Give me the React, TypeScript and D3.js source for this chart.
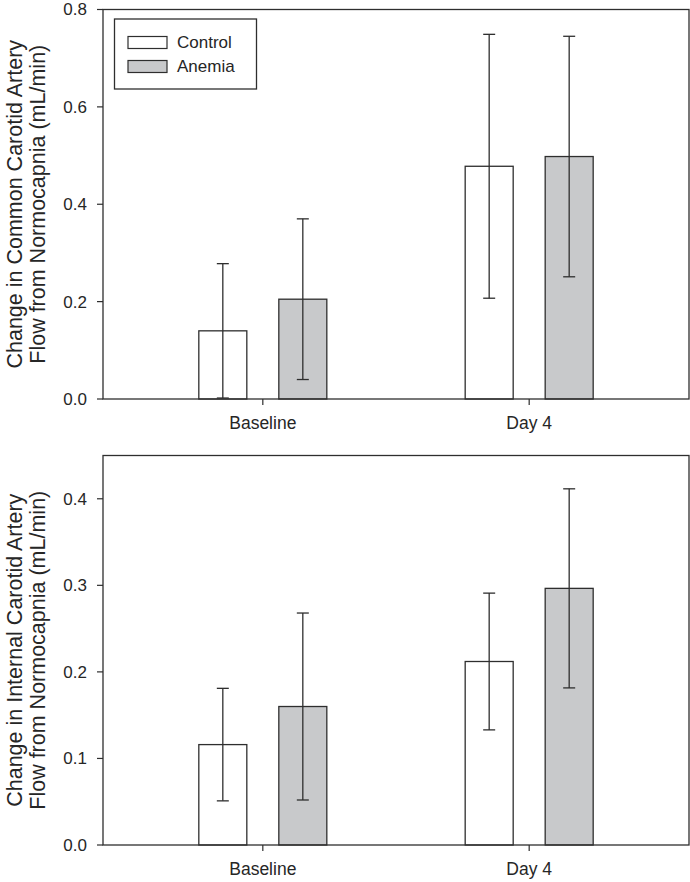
import React from "react";
import * as d3 from "d3";

const categories = ["Baseline", "Day 4"];
const series = ["Control", "Anemia"];
const seriesFill = ["#ffffff", "#c8c9cb"];

// Top panel: Common Carotid Artery
const cccControlMean = [0.14, 0.478];
const cccControlErr = [0.138, 0.271];
const cccAnemiaMean = [0.205, 0.498];
const cccAnemiaErr = [0.165, 0.247];
const cccTicks = [0.0, 0.2, 0.4, 0.6, 0.8];

// Bottom panel: Internal Carotid Artery
const icaControlMean = [0.116, 0.212];
const icaControlErr = [0.065, 0.079];
const icaAnemiaMean = [0.16, 0.2965];
const icaAnemiaErr = [0.108, 0.115];
const icaTicks = [0.0, 0.1, 0.2, 0.3, 0.4];

const FONT = "Liberation Sans, Arial, sans-serif";
const STROKE = "#2e2e2e";
const TEXT = "#262626";

type PanelProps = {
  top: number;
  bottom: number;
  yMax: number;
  ticks: number[];
  means: number[][];
  errs: number[][];
  title: string[];
  legend?: boolean;
};

const left = 103;
const right = 689;

function Panel({ top, bottom, yMax, ticks, means, errs, title, legend }: PanelProps) {
  const x = d3.scalePoint<string>().domain(categories).range([left, right]).padding(0.6);
  const xs = d3.scaleBand<string>().domain(series).range([-64, 64]).paddingInner(0.4);
  const y = d3.scaleLinear().domain([0, yMax]).range([bottom, top]);
  const capHalf = 6;
  const cy = (top + bottom) / 2;
  return (
    <g>
      {/* bars */}
      {series.map((s, si) =>
        categories.map((c, ci) => {
          const x0 = (x(c) as number) + (xs(s) as number);
          const v = means[si][ci];
          return (
            <rect
              key={s + c}
              x={x0}
              y={y(v)}
              width={xs.bandwidth()}
              height={y(0) - y(v)}
              fill={seriesFill[si]}
              stroke={STROKE}
              strokeWidth={1.3}
            />
          );
        })
      )}
      {/* error bars */}
      {series.map((s, si) =>
        categories.map((c, ci) => {
          const xc = (x(c) as number) + (xs(s) as number) + xs.bandwidth() / 2;
          const v = means[si][ci];
          const e = errs[si][ci];
          return (
            <g key={"e" + s + c} stroke={STROKE} strokeWidth={1.3}>
              <line x1={xc} x2={xc} y1={y(v + e)} y2={y(v - e)} />
              <line x1={xc - capHalf} x2={xc + capHalf} y1={y(v + e)} y2={y(v + e)} />
              <line x1={xc - capHalf} x2={xc + capHalf} y1={y(v - e)} y2={y(v - e)} />
            </g>
          );
        })
      )}
      {/* frame */}
      <rect x={left} y={top} width={right - left} height={bottom - top} fill="none" stroke={STROKE} strokeWidth={1.3} />
      {/* y ticks */}
      {ticks.map((t) => (
        <g key={"t" + t}>
          <line x1={left - 6} x2={left} y1={y(t)} y2={y(t)} stroke={STROKE} strokeWidth={1.2} />
          <text x={87} y={y(t)} dy="0.35em" textAnchor="end" fontSize={17} fontFamily={FONT} fill={TEXT}>
            {t.toFixed(1)}
          </text>
        </g>
      ))}
      {/* x ticks */}
      {categories.map((c) => (
        <g key={"x" + c}>
          <line x1={x(c)} x2={x(c)} y1={bottom} y2={bottom + 6} stroke={STROKE} strokeWidth={1.2} />
          <text x={x(c)} y={bottom + 30} textAnchor="middle" fontSize={17.5} fontFamily={FONT} fill={TEXT}>
            {c}
          </text>
        </g>
      ))}
      {/* y title */}
      {title.map((line, i) => (
        <text
          key={"yt" + i}
          transform={`translate(${21.5 + i * 23.5},${cy}) rotate(-90)`}
          textAnchor="middle"
          fontSize={21.5}
          fontFamily={FONT}
          fill={TEXT}
        >
          {line}
        </text>
      ))}
      {legend && (
        <g>
          <rect x={114.5} y={19} width={142} height={70} fill="#fff" stroke={STROKE} strokeWidth={1.3} />
          {series.map((s, si) => (
            <g key={"l" + s}>
              <rect x={128} y={36.5 + si * 24} width={39} height={12} fill={seriesFill[si]} stroke={STROKE} strokeWidth={1.2} />
              <text x={177} y={42.5 + si * 24} dy="0.35em" fontSize={17} fontFamily={FONT} fill={TEXT}>
                {s}
              </text>
            </g>
          ))}
        </g>
      )}
    </g>
  );
}

export default function App() {
  return (
    <svg
      width={690}
      height={882}
      style={{ position: "absolute", left: 0, top: 0, background: "#fff" }}
    >
      <rect width={690} height={882} fill="#fff" />
      <Panel
        top={9.5}
        bottom={399}
        yMax={0.8}
        ticks={cccTicks}
        means={[cccControlMean, cccAnemiaMean]}
        errs={[cccControlErr, cccAnemiaErr]}
        title={["Change in Common Carotid Artery", "Flow from Normocapnia (mL/min)"]}
        legend
      />
      <Panel
        top={455.5}
        bottom={845}
        yMax={0.45}
        ticks={icaTicks}
        means={[icaControlMean, icaAnemiaMean]}
        errs={[icaControlErr, icaAnemiaErr]}
        title={["Change in Internal Carotid Artery", "Flow from Normocapnia (mL/min)"]}
      />
    </svg>
  );
}
